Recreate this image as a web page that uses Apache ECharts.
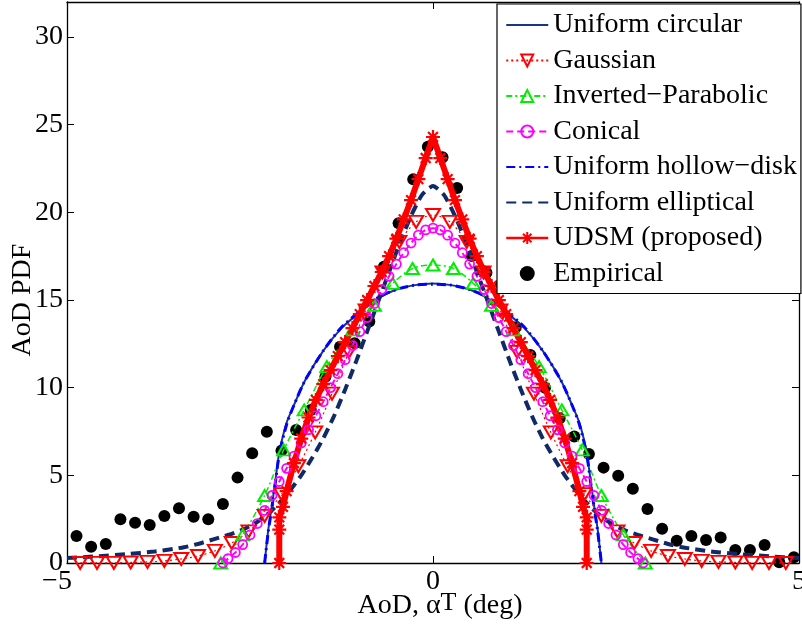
<!DOCTYPE html>
<html><head><meta charset="utf-8">
<script src="https://cdn.jsdelivr.net/npm/echarts@6/dist/echarts.min.js"></script>
<style>html,body{margin:0;padding:0;background:#fff}#c{width:802px;height:626px}</style>
</head><body><div id="c"></div>
<script>
// ---------- data ----------
const xTicks = [-5, 0, 5];
const yTicks = [0, 5, 10, 15, 20, 25, 30];
const names = ['Uniform circular', 'Gaussian', 'Inverted\u2212Parabolic', 'Conical',
  'Uniform hollow\u2212disk', 'Uniform elliptical', 'UDSM (proposed)', 'Empirical'];

const circX = [-2.3,-2.25,-2.2,-2.15,-2.1,-2.0,-1.9,-1.75,-1.5,-1.25,-1.0,-0.75,-0.5,-0.25,0,0.25,0.5,0.75,1.0,1.25,1.5,1.75,1.9,2.0,2.1,2.15,2.2,2.25,2.3];
const circY = [0,1.9,3.3,4.8,6.3,8.0,9.0,10.4,12.1,13.4,14.3,15.1,15.6,15.85,15.95,15.85,15.6,15.1,14.3,13.4,12.1,10.4,9.0,8.0,6.3,4.8,3.3,1.9,0];

const gaussX = [-4.82,-4.59,-4.36,-4.13,-3.9,-3.67,-3.44,-3.21,-2.98,-2.75,-2.52,-2.3,-2.07,-1.84,-1.61,-1.38,-1.15,-0.92,-0.69,-0.46,-0.23,0,0.23,0.46,0.69,0.92,1.15,1.38,1.61,1.84,2.07,2.3,2.52,2.75,2.98,3.21,3.44,3.67,3.9,4.13,4.36,4.59,4.82];
const gaussY = [0,0.01,0.01,0.03,0.06,0.12,0.23,0.4,0.69,1.14,1.8,2.69,3.93,5.52,7.45,9.66,12.04,14.41,16.58,18.32,19.46,19.85,19.46,18.32,16.58,14.41,12.04,9.66,7.45,5.52,3.93,2.69,1.8,1.14,0.69,0.4,0.23,0.12,0.06,0.03,0.01,0.01,0];

const ipX = [-2.9,-2.6,-2.3,-2.04,-1.76,-1.45,-1.1,-0.8,-0.55,-0.28,0,0.28,0.55,0.8,1.1,1.45,1.76,2.04,2.3,2.6,2.9];
const ipY = [0,1.6,3.85,6.45,8.73,11.2,13.3,14.7,15.95,16.8,17.0,16.8,15.95,14.7,13.3,11.2,8.73,6.45,3.85,1.6,0];

const conX = [-2.87,-2.8,-2.7,-2.6,-2.5,-2.4,-2.3,-2.2,-2.1,-2.0,-1.9,-1.8,-1.7,-1.6,-1.5,-1.4,-1.3,-1.2,-1.1,-1.0,-0.9,-0.8,-0.7,-0.6,-0.5,-0.4,-0.3,-0.2,-0.1,0,0.1,0.2,0.3,0.4,0.5,0.6,0.7,0.8,0.9,1.0,1.1,1.2,1.3,1.4,1.5,1.6,1.7,1.8,1.9,2.0,2.1,2.2,2.3,2.4,2.5,2.6,2.7,2.8,2.87];
const conY = [0,0.25,0.6,1.05,1.6,2.25,3.0,3.85,4.65,5.4,6.1,6.85,7.6,8.4,9.2,10.0,10.8,11.6,12.4,13.2,14.0,14.8,15.6,16.35,17.05,17.7,18.25,18.7,19.0,19.1,19.0,18.7,18.25,17.7,17.05,16.35,15.6,14.8,14.0,13.2,12.4,11.6,10.8,10.0,9.2,8.4,7.6,6.85,6.1,5.4,4.65,3.85,3.0,2.25,1.6,1.05,0.6,0.25,0];

const hollowX = [-2.3,-2.25,-2.2,-2.15,-2.1,-2.0,-1.9,-1.75,-1.5,-1.25,-1.0,-0.75,-0.5,-0.25,0,0.25,0.5,0.75,1.0,1.25,1.5,1.75,1.9,2.0,2.1,2.15,2.2,2.25,2.3];
const hollowY = [0,1.8,3.2,4.7,6.2,7.9,9.0,10.4,12.1,13.45,14.35,15.15,15.6,15.85,15.9,15.85,15.6,15.15,14.35,13.45,12.1,10.4,9.0,7.9,6.2,4.7,3.2,1.8,0];

const ellX = [-5,-4.6,-4.2,-3.8,-3.4,-3.2,-3.0,-2.8,-2.6,-2.4,-2.2,-2.0,-1.8,-1.65,-1.5,-1.35,-1.2,-1.05,-0.9,-0.75,-0.6,-0.45,-0.3,-0.15,0,0.15,0.3,0.45,0.6,0.75,0.9,1.05,1.2,1.35,1.5,1.65,1.8,2.0,2.2,2.4,2.6,2.8,3.0,3.2,3.4,3.8,4.2,4.6,5];
const ellY = [0.28,0.38,0.5,0.66,0.9,1.1,1.35,1.6,1.9,2.35,3.0,3.9,5.0,6.0,7.1,8.4,9.9,11.5,13.2,14.9,16.6,18.3,19.8,21.0,21.5,21.0,19.8,18.3,16.6,14.9,13.2,11.5,9.9,8.4,7.1,6.0,5.0,3.9,3.0,2.35,1.9,1.6,1.35,1.1,0.9,0.66,0.5,0.38,0.28];

const udsmX = [-2.1,-2.1,-2.1,-2.05,-2.0,-1.9,-1.8,-1.7,-1.6,-1.5,-1.4,-1.3,-1.2,-1.1,-1.0,-0.9,-0.8,-0.7,-0.6,-0.5,-0.4,-0.3,-0.2,-0.1,0,0.1,0.2,0.3,0.4,0.5,0.6,0.7,0.8,0.9,1.0,1.1,1.2,1.3,1.4,1.5,1.6,1.7,1.8,1.9,2.0,2.05,2.1,2.1,2.1];
const udsmY = [0,1.9,2.6,3.2,4.1,5.7,7.1,8.3,9.3,10.2,11.0,11.8,12.6,13.4,14.2,15.0,15.8,16.6,17.5,18.5,19.6,20.7,21.9,23.1,24.3,23.1,21.9,20.7,19.6,18.5,17.5,16.6,15.8,15.0,14.2,13.4,12.6,11.8,11.0,10.2,9.3,8.3,7.1,5.7,4.1,3.2,2.6,1.9,0];

const empX = [-4.87,-4.67,-4.47,-4.27,-4.07,-3.87,-3.67,-3.47,-3.27,-3.07,-2.87,-2.67,-2.47,-2.27,-2.07,-1.87,-1.67,-1.47,-1.27,-1.07,-0.87,-0.67,-0.47,-0.27,-0.07,0.13,0.33,0.53,0.73,0.93,1.13,1.33,1.53,1.73,1.93,2.13,2.33,2.53,2.73,2.93,3.13,3.33,3.53,3.73,3.93,4.13,4.33,4.53,4.73,4.93];
const empY = [1.54,0.93,1.08,2.49,2.30,2.17,2.68,3.12,2.64,2.49,3.36,4.87,6.26,7.49,6.41,7.59,8.73,10.63,12.34,12.53,13.77,16.9,19.38,21.89,23.75,23.14,21.39,17.51,16.56,15.9,13.44,11.87,10.0,8.25,7.21,6.22,5.44,4.98,4.24,3.08,1.96,1.27,1.54,1.31,1.46,0.74,0.74,1.03,0.04,0.33];

// ---------- chart ----------
const FONT = 'Liberation Serif';
const pairs = (xs, ys) => xs.map((x, i) => [x, ys[i]]);
const TRI_DOWN = 'path://M0,0L12,0L6,10Z';
const TRI_UP = 'path://M6,0L12,10L0,10Z';
const ASTER = 'path://M6,0L6,12M0,6L12,6M1.8,1.8L10.2,10.2M10.2,1.8L1.8,10.2';
const CLEAR = 'rgba(0,0,0,0)';

const chart = echarts.init(document.getElementById('c'), null, {renderer: 'canvas'});

function baseLine(name, xs, ys, color, width, type, extra) {
  return Object.assign({
    name, type: 'line', data: pairs(xs, ys), clip: false,
    lineStyle: {color, width, type}, showSymbol: false, symbol: 'none',
    emphasis: {disabled: true}, animation: false
  }, extra || {});
}

const option = {
  animation: false,
  backgroundColor: '#fff',
  grid: {left: 67, right: 3, top: 2, bottom: 63, containLabel: false, outerBoundsMode: 'none'},
  xAxis: [{
    type: 'value', min: -5, max: 5, interval: 5, position: 'bottom',
    axisLine: {onZero: false, lineStyle: {color: '#000', width: 1.3}},
    axisTick: {inside: true, length: 7, lineStyle: {color: '#000', width: 1}},
    splitLine: {show: false},
    axisLabel: {
      margin: 5, color: '#000', fontFamily: FONT, fontSize: 28,
      formatter: v => v < 0 ? '{m|\u2212' + Math.abs(v) + '}' : String(v),
      rich: {m: {fontFamily: FONT, fontSize: 28, color: '#000', padding: [0, 20, 0, 0]}}
    },
    name: '{a|AoD, \u03b1}{s|T}{a| (deg)}', nameLocation: 'middle', nameGap: 27,
    nameMoveOverlap: false,
    nameTextStyle: {
      padding: [0, 0, 0, 14],
      rich: {
        a: {fontFamily: FONT, fontSize: 28, color: '#000', lineHeight: 30, verticalAlign: 'bottom'},
        s: {fontFamily: FONT, fontSize: 26, color: '#000', lineHeight: 22, verticalAlign: 'top', padding: [0, 0, 17, 0]}
      }
    }
  }, {
    type: 'value', min: -5, max: 5, interval: 5, position: 'top',
    axisLine: {onZero: false, lineStyle: {color: '#000', width: 1.3}},
    axisTick: {inside: true, length: 7, lineStyle: {color: '#000', width: 1}},
    axisLabel: {show: false}, splitLine: {show: false}
  }],
  yAxis: [{
    type: 'value', min: 0, max: 32, interval: 5, position: 'left',
    axisLine: {onZero: false, lineStyle: {color: '#000', width: 1.3}},
    axisTick: {inside: true, length: 7, lineStyle: {color: '#000', width: 1}},
    splitLine: {show: false},
    axisLabel: {margin: 4, color: '#000', fontFamily: FONT, fontSize: 28, showMaxLabel: false},
    name: 'AoD PDF', nameLocation: 'middle', nameGap: 30, nameMoveOverlap: false,
    nameTextStyle: {fontFamily: FONT, fontSize: 28, color: '#000', padding: [0, 35, 0, 0]}
  }, {
    type: 'value', min: 0, max: 32, interval: 5, position: 'right',
    axisLine: {onZero: false, lineStyle: {color: '#000', width: 1.3}},
    axisTick: {inside: true, length: 7, lineStyle: {color: '#000', width: 1}},
    axisLabel: {show: false}, splitLine: {show: false}
  }],
  legend: {
    orient: 'vertical', left: 497, top: 4,
    backgroundColor: '#fff', borderColor: '#000', borderWidth: 1.2, borderRadius: 0,
    padding: [5, 4, 4, 8], itemWidth: 42, itemHeight: 15, itemGap: 3.5,
    selectedMode: false,
    textStyle: {fontFamily: FONT, fontSize: 28, color: '#000', lineHeight: 32},
    data: [
      {name: names[0], itemStyle: {opacity: 0}},
      {name: names[1], itemStyle: {color: CLEAR, borderColor: '#ff0000', borderWidth: 2}},
      {name: names[2], itemStyle: {color: CLEAR, borderColor: '#00ee00', borderWidth: 2}},
      {name: names[3], itemStyle: {color: CLEAR, borderColor: '#ff00ff', borderWidth: 2}},
      {name: names[4], itemStyle: {opacity: 0}},
      {name: names[5], itemStyle: {opacity: 0}},
      {name: names[6], itemStyle: {color: '#ff0000', borderColor: '#ff0000', borderWidth: 2}, lineStyle: {width: 2.5}},
      {name: names[7], itemStyle: {color: '#000', opacity: 1}}
    ]
  },
  series: [
    baseLine(names[0], circX, circY, '#17368a', 2, 'solid', {smooth: 0.25}),
    baseLine(names[1], gaussX, gaussY, '#ff0000', 1.2, [2, 3], {
      showSymbol: true, symbol: TRI_DOWN, symbolSize: [14, 12], smooth: 0.3,
      itemStyle: {color: CLEAR, borderColor: '#ff0000', borderWidth: 2}
    }),
    baseLine(names[2], ipX, ipY, '#00ee00', 1.5, [6, 3, 2, 3], {
      showSymbol: true, symbol: TRI_UP, symbolSize: [13, 11], smooth: 0.3,
      itemStyle: {color: CLEAR, borderColor: '#00ee00', borderWidth: 2}
    }),
    baseLine(names[3], conX, conY, '#ff00ff', 2, [7, 4], {
      showSymbol: true, symbol: 'circle', symbolSize: 9, smooth: 0.2,
      itemStyle: {color: CLEAR, borderColor: '#ff00ff', borderWidth: 1.8}
    }),
    baseLine(names[4], hollowX, hollowY, '#0000ff', 3, [9, 4, 2, 4], {smooth: 0.25}),
    baseLine(names[5], ellX, ellY, '#0f2a66', 4, [10, 6], {smooth: 0.2}),
    baseLine(names[6], udsmX, udsmY, '#ff0000', 6, 'solid', {
      showSymbol: true, symbol: ASTER, symbolSize: 14,
      itemStyle: {color: '#ff0000', borderColor: '#ff0000', borderWidth: 2.2}
    }),
    {
      name: names[7], type: 'scatter', data: pairs(empX, empY), clip: false,
      symbol: 'circle', symbolSize: 12, itemStyle: {color: '#000', opacity: 1},
      emphasis: {disabled: true}, animation: false
    }
  ]
};
chart.setOption(option);
</script>
</body></html>
